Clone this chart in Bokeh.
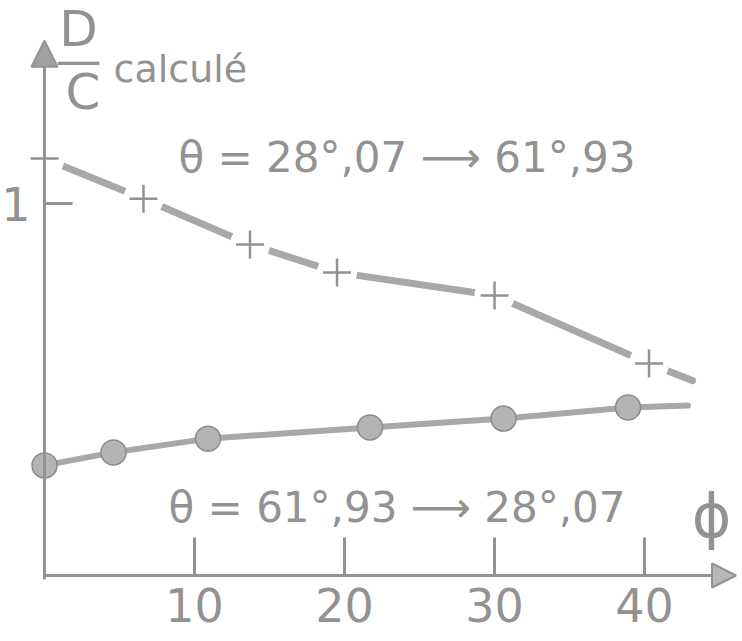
from bokeh.plotting import figure
from bokeh.models import Range1d, Label, Arrow, NormalHead, FixedTicker
from bokeh.embed import file_html
from bokeh.resources import INLINE

# ---- data ----
phi_up = [0, 6.6, 13.7, 19.5, 30.0, 40.3]          # θ = 28°,07 -> 61°,93  (+ markers)
dc_up = [1.121, 1.013, 0.890, 0.815, 0.753, 0.570]
phi_up_tail = [40.3, 43.2]
dc_up_tail = [0.570, 0.524]

phi_low = [0, 4.6, 10.9, 21.7, 30.6, 38.9]          # θ = 61°,93 -> 28°,07  (● markers)
dc_low = [0.296, 0.331, 0.368, 0.398, 0.422, 0.452]
phi_low_tail = [38.9, 42.9]
dc_low_tail = [0.452, 0.457]

x_ticks = [10, 20, 30, 40]
y_ticks = [1]

INK = "#929292"
LINE = "#a8a8a8"
FONT = "DejaVu Sans"

p = figure(width=742, height=641, x_range=Range1d(-2.933, 46.53), y_range=Range1d(-0.1774, 1.546),
           output_backend="svg", toolbar_location=None,
           min_border_left=0, min_border_bottom=0, min_border_top=0, min_border_right=0)
p.grid.visible = False
p.outline_line_color = None
p.background_fill_color = "white"
p.border_fill_color = "white"

# axes drawn at the origin
p.xaxis.ticker = FixedTicker(ticks=x_ticks)
p.yaxis.ticker = FixedTicker(ticks=y_ticks)
p.xaxis.fixed_location = 0
p.yaxis.fixed_location = 0
for ax in (p.xaxis, p.yaxis):
    ax.axis_line_color = None
    ax.major_tick_out = 0
    ax.minor_tick_line_color = None
    ax.major_tick_line_color = INK
    ax.major_tick_line_width = 3
    ax.major_label_text_color = INK
    ax.major_label_text_font = FONT
    ax.major_label_text_font_size = "46px"
p.xaxis.major_tick_in = 38
p.xaxis.major_label_standoff = 12
p.yaxis.major_tick_in = 28
p.yaxis.major_label_standoff = 14
p.yaxis.major_label_text_baseline = "alphabetic"

# axis arrows
p.add_layout(Arrow(x_start=0, y_start=-0.01, x_end=0, y_end=1.438,
                   line_color=INK, line_width=3,
                   end=NormalHead(size=26, fill_color="#a0a0a0", line_color=INK, line_width=2)))
p.add_layout(Arrow(x_start=-0.1, y_start=0, x_end=46.1, y_end=0,
                   line_color=INK, line_width=3,
                   end=NormalHead(size=24, fill_color="#b8b8b8", line_color=INK, line_width=2)))

# upper curve: broken line with + markers
p.line(phi_up, dc_up, line_color=LINE, line_width=7, line_cap="round")
p.line(phi_up_tail, dc_up_tail, line_color=LINE, line_width=7, line_cap="round")
p.scatter(phi_up, dc_up, marker="circle", size=40, fill_color="white", line_color=None)
p.scatter(phi_up, dc_up, marker="cross", size=28, line_color=INK, line_width=2.5)

# lower curve: solid line with filled circles
p.line(phi_low, dc_low, line_color=LINE, line_width=6)
p.line(phi_low_tail, dc_low_tail, line_color=LINE, line_width=6, line_cap="round")
p.scatter(phi_low, dc_low, marker="circle", size=25, fill_color="#b4b4b4",
          line_color="#8a8a8a", line_width=1.5)

def lab(x, y, t, size, align="left", base="alphabetic"):
    p.add_layout(Label(x=x, y=y, text=t, text_font=FONT, text_font_size=size,
                       text_color=INK, text_align=align, text_baseline=base))

lab(2.27, 1.470, "D", "50px", "center", "middle")
lab(2.27, 1.387, "—", "46px", "center", "middle")
lab(2.57, 1.300, "C", "50px", "center", "middle")
lab(4.6, 1.363, "calculé", "38px")
lab(8.93, 1.124, "θ = 28°,07 ⟶ 61°,93", "42px")
lab(8.27, 0.183, "θ = 61°,93 ⟶ 28°,07", "42px")
lab(44.47, 0.159, "ϕ", "60px", "center", "middle")

open("out.html", "w").write(file_html(p, INLINE))
